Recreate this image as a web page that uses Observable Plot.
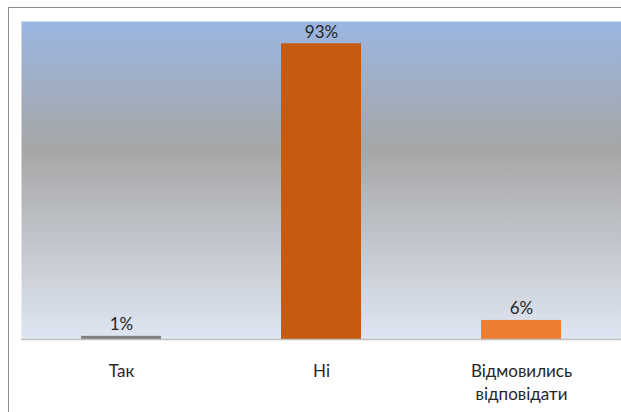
<!DOCTYPE html>
<html>
<head>
<meta charset="utf-8">
<script src="https://cdn.jsdelivr.net/npm/d3@7"></script>
<script src="https://cdn.jsdelivr.net/npm/@observablehq/plot@0.6"></script>
<style>
  html, body { margin: 0; padding: 0; background: #fff; }
  #wrap { position: relative; width: 621px; height: 412px; overflow: hidden; }
  #border { position: absolute; left: 8px; top: 7px; right: -2px; bottom: -2px;
            border-top: 1.5px solid #8c8c8c; border-left: 1.5px solid #8c8c8c; pointer-events: none; }
  #chart { position: absolute; left: 0; top: 0; }
</style>
</head>
<body>
<div id="wrap"><div id="chart"></div><div id="border"></div></div>
<script>
const categories = ["Так", "Ні", "Відмовились\nвідповідати"];
const values = [1, 93, 6];
const valueLabels = ["1%", "93%", "6%"];
const barColors = ["#7f7f7f", "#c55a11", "#ed7d31"];

const data = categories.map((c, i) => ({cat: c, value: values[i], label: valueLabels[i], color: barColors[i]}));

const defs = () => {
  const g = d3.create("svg:defs");
  const lg = g.append("linearGradient").attr("id", "bg")
    .attr("x1", 0).attr("y1", 0).attr("x2", 0).attr("y2", 1);
  lg.append("stop").attr("offset", "0%").attr("stop-color", "#9ab6e2");
  lg.append("stop").attr("offset", "40%").attr("stop-color", "#a6a6a6");
  lg.append("stop").attr("offset", "100%").attr("stop-color", "#dfe6f3");
  return g.node();
};

const chart = Plot.plot({
  width: 621,
  height: 412,
  marginLeft: 21,
  marginRight: 0,
  marginTop: 21,
  marginBottom: 73,
  style: {fontFamily: "Lato, 'Open Sans', sans-serif", fontSize: "17px", color: "#262626", background: "transparent"},
  x: {domain: categories, paddingInner: 0.6, paddingOuter: 0.3, label: null},
  y: {domain: [0, 100], axis: null},
  marks: [
    defs,
    Plot.frame({fill: "url(#bg)", stroke: "none"}),
    Plot.barY(data, {x: "cat", y: "value", fill: "color"}),
    Plot.ruleY([0], {stroke: "#c0c0c0", strokeWidth: 1.5}),
    Plot.text(data, {x: "cat", y: "value", text: "label", lineAnchor: "bottom", dy: -6, fontSize: 17, fill: "#262626"}),
    Plot.axisX({tickSize: 0, tickPadding: 21, fontSize: 17, lineHeight: 1.35, label: null, tickFormat: d => d})
  ]
});
document.getElementById("chart").appendChild(chart);
</script>
</body>
</html>
